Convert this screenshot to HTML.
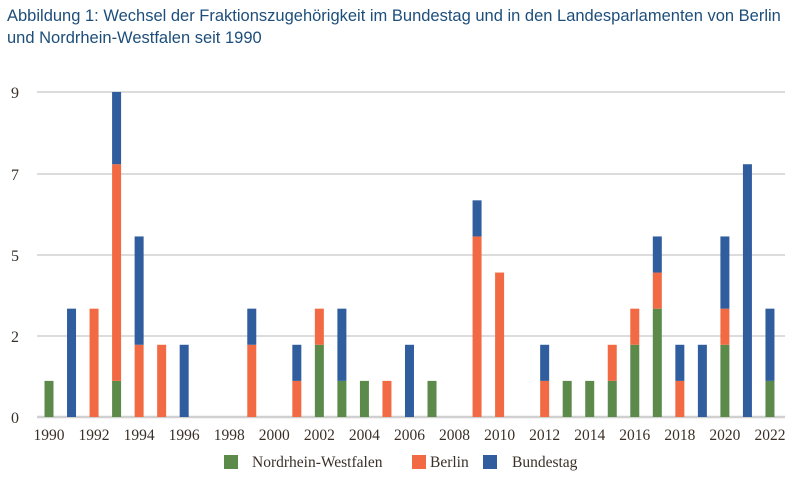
<!DOCTYPE html>
<html><head><meta charset="utf-8"><style>
body{margin:0;background:#fff;width:800px;height:481px;overflow:hidden}
.t{position:absolute;left:7px;top:5px;font-family:"Liberation Sans",sans-serif;font-size:16.5px;line-height:22px;color:#1d4e7a;white-space:nowrap}
</style></head><body>
<div class="t">Abbildung 1: Wechsel der Fraktionszugehörigkeit im Bundestag und in den Landesparlamenten von Berlin<br>und Nordrhein-Westfalen seit 1990</div>
<svg id="s" width="800" height="481" style="position:absolute;left:0;top:0" font-family="Liberation Serif,serif"></svg>
<script>
var d={1990:[1,0,0],1991:[0,0,3],1992:[0,3,0],1993:[1,6,2],1994:[0,2,3],1995:[0,2,0],1996:[0,0,2],1999:[0,2,1],2001:[0,1,1],2002:[2,1,0],2003:[1,0,2],2004:[1,0,0],2005:[0,1,0],2006:[0,0,2],2007:[1,0,0],2009:[0,5,1],2010:[0,4,0],2012:[0,1,1],2013:[1,0,0],2014:[1,0,0],2015:[1,1,0],2016:[2,1,0],2017:[3,1,1],2018:[0,1,1],2019:[0,0,2],2020:[2,1,2],2021:[0,0,7],2022:[1,0,2]};
var c=["#5b8a4a","#f26a44","#2f5d9e"],h='';
var ys=[[0,417],[2,336],[5,255],[7,174],[9,92]];
ys.forEach(function(g){h+='<line x1="37" x2="785" y1="'+g[1]+'" y2="'+g[1]+'" stroke="#d0d0d0" stroke-width="'+(g[0]?1.5:2.5)+'"/>';h+='<text x="15" y="'+(g[1]+6)+'" font-size="16" fill="#3a3028" text-anchor="middle">'+g[0]+'</text>';});
var u=325/9;
for(var y=1990;y<=2022;y++){var cx=49+(y-1990)*22.53;
if(y%2==0)h+='<text x="'+cx+'" y="440" font-size="15.5" fill="#3a3028" text-anchor="middle">'+y+'</text>';
var v=d[y];if(!v)continue;var b=417;
for(var i=0;i<3;i++){if(v[i]){var hh=v[i]*u;h+='<rect x="'+(cx-4.5)+'" y="'+(b-hh)+'" width="9" height="'+hh+'" fill="'+c[i]+'"/>';b-=hh;}}}
var L=[[224,252,"Nordrhein-Westfalen"],[412,430,"Berlin"],[483,512,"Bundestag"]];
L.forEach(function(l,i){h+='<rect x="'+l[0]+'" y="455" width="14" height="14" fill="'+c[i]+'"/><text x="'+l[1]+'" y="467" font-size="15.5" fill="#3a3028">'+l[2]+'</text>';});
document.getElementById('s').innerHTML=h;
</script>
</body></html>
